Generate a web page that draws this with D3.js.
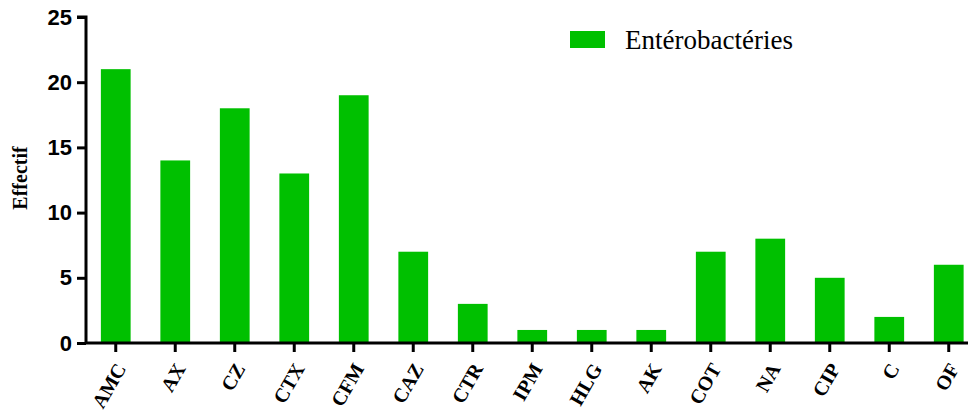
<!DOCTYPE html>
<html>
<head>
<meta charset="utf-8">
<script src="https://cdn.jsdelivr.net/npm/d3@7"></script>
<style>
  body { margin: 0; background: #fff; }
  svg { display: block; }
</style>
</head>
<body>
<div id="chart"></div>
<script>
// data
const categories = ["AMC", "AX", "CZ", "CTX", "CFM", "CAZ", "CTR", "IPM", "HLG", "AK", "COT", "NA", "CIP", "C", "OF"];
const effectif = [21, 14, 18, 13, 19, 7, 3, 1, 1, 1, 7, 8, 5, 2, 6];
const yTicks = [0, 5, 10, 15, 20, 25];
const seriesName = "Entérobactéries";

const width = 968, height = 414;
const barColor = "#00c000";

const svg = d3.select("#chart").append("svg")
    .attr("width", width)
    .attr("height", height);

const x = d3.scaleBand()
    .domain(categories)
    .range([86, 978.5])
    .paddingInner(0.5)
    .paddingOuter(0.25);

const y = d3.scaleLinear()
    .domain([0, 25])
    .range([343, 17]);

// bars
svg.append("g")
    .selectAll("rect")
    .data(categories)
    .enter().append("rect")
    .attr("x", d => x(d))
    .attr("width", x.bandwidth())
    .attr("y", (d, i) => y(effectif[i]))
    .attr("height", (d, i) => y(0) - y(effectif[i]))
    .attr("fill", barColor);

// y axis
let yAxis = svg.append("g")
    .attr("transform", "translate(86,0)")
    .call(d3.axisLeft(y).tickValues(yTicks).tickSize(9).tickPadding(5));
yAxis.select(".domain").attr("stroke", "#000").attr("stroke-width", 3)
    .attr("d", "M-9," + y(25) + "H0V" + y(0));
yAxis.selectAll(".tick line").attr("stroke", "#000").attr("stroke-width", 3);
yAxis.selectAll(".tick text")
    .attr("font-family", "Liberation Sans, Arial, sans-serif")
    .attr("font-weight", "bold")
    .attr("font-size", 22)
    .attr("fill", "#000");

// x axis
let xAxis = svg.append("g")
    .attr("transform", "translate(0," + y(0) + ")")
    .call(d3.axisBottom(x).tickSize(9).tickSizeOuter(0));
xAxis.select(".domain").attr("stroke", "#000").attr("stroke-width", 3)
    .attr("d", "M86,0H968");
xAxis.selectAll(".tick line").attr("stroke", "#000").attr("stroke-width", 3);
xAxis.selectAll(".tick text")
    .attr("font-family", "Liberation Serif, 'Times New Roman', serif")
    .attr("font-weight", "bold")
    .attr("font-size", 20)
    .attr("fill", "#000")
    .attr("text-anchor", "end")
    .attr("x", 0)
    .attr("y", 0)
    .attr("dy", "0.35em")
    .attr("transform", "translate(5,22) rotate(-60)");

// y title
svg.append("text")
    .attr("transform", "translate(27,178) rotate(-90)")
    .attr("text-anchor", "middle")
    .attr("font-family", "Liberation Serif, 'Times New Roman', serif")
    .attr("font-weight", "bold")
    .attr("font-size", 20)
    .text("Effectif");

// legend
let legend = svg.append("g");
legend.append("rect")
    .attr("x", 570).attr("y", 31)
    .attr("width", 35).attr("height", 17)
    .attr("fill", barColor);
legend.append("text")
    .attr("x", 625).attr("y", 49)
    .attr("font-family", "Liberation Serif, 'Times New Roman', serif")
    .attr("font-size", 27)
    .attr("fill", "#000")
    .text(seriesName);
</script>
</body>
</html>
